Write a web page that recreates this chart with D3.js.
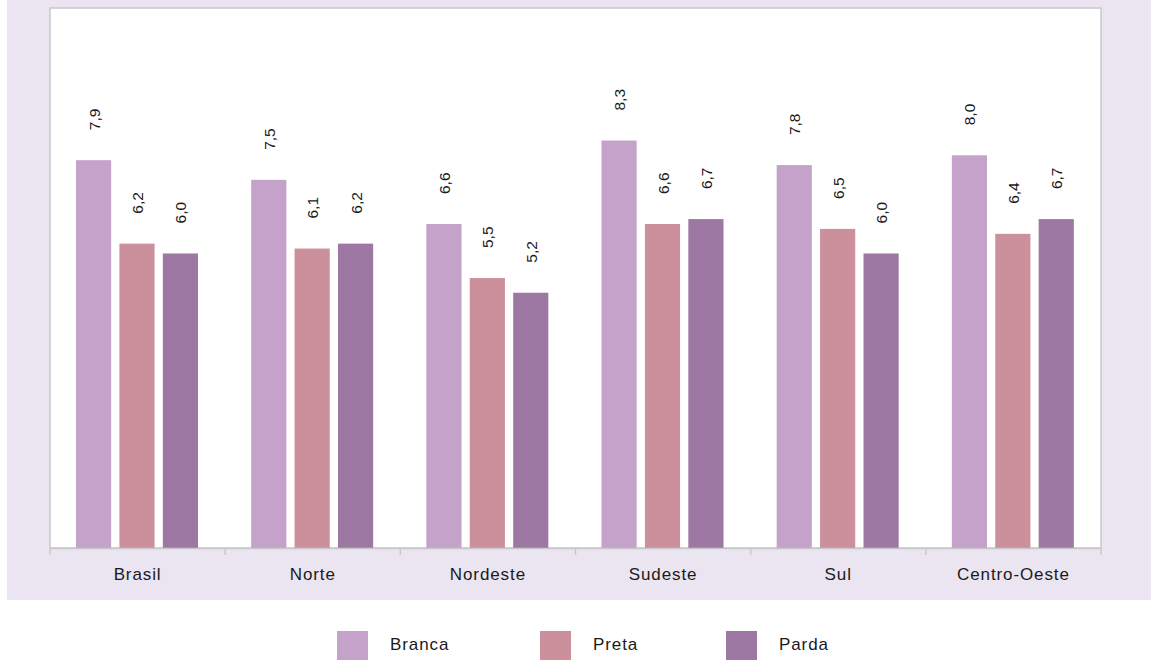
<!DOCTYPE html>
<html><head><meta charset="utf-8">
<script src="https://cdn.jsdelivr.net/npm/d3@7"></script>
<style>body{margin:0;background:#fff;}svg{display:block;}</style>
</head><body>
<svg id="chart" width="1151" height="660"></svg>
<script>
const categories = ["Brasil","Norte","Nordeste","Sudeste","Sul","Centro-Oeste"];
const seriesNames = ["Branca","Preta","Parda"];
const branca = [7.9,7.5,6.6,8.3,7.8,8.0];
const preta  = [6.2,6.1,5.5,6.6,6.5,6.4];
const parda  = [6.0,6.2,5.2,6.7,6.0,6.7];
const colors = ["#c4a2c9","#cc8f9c","#9d78a3"];
const series = [branca, preta, parda];

(function(){
const svg = d3.select("#chart");
const font = "Liberation Sans, Arial, sans-serif";

svg.append("rect").attr("x",7).attr("y",0).attr("width",1144).attr("height",600).attr("fill","#ebe5f1");

const pl=50, pr=1101, pt=8, pb=548;
svg.append("rect").attr("x",pl).attr("y",pt).attr("width",pr-pl).attr("height",pb-pt)
  .attr("fill","#fff").attr("stroke","#c8c8c8").attr("stroke-width",1.5);

const x0 = d3.scaleBand().domain(categories).range([pl,pr]).paddingInner(0).paddingOuter(0);
const x1 = d3.scaleBand().domain(seriesNames).range([26, 148]).paddingInner(0.19);
const y = d3.scaleLinear().domain([0,11]).range([pb, pt]);

const g = svg.append("g");
categories.forEach((c,i)=>{
  seriesNames.forEach((s,j)=>{
    const v = series[j][i];
    const bx = x0(c)+x1(s);
    g.append("rect").attr("x",bx).attr("y",y(v)).attr("width",x1.bandwidth()).attr("height",pb-y(v)).attr("fill",colors[j]);
    const cx = bx + x1.bandwidth()/2 + 6;
    g.append("text").attr("transform",`translate(${cx},${y(v)-30}) rotate(-90)`)
      .attr("text-anchor","start").attr("font-family",font).attr("font-size",15.5).attr("fill","#1a1a1a")
      .text(d3.format(".1f")(v).replace(".",","));
  });
});

const axis = d3.axisBottom(x0).tickSize(0).tickSizeOuter(0);
const ag = svg.append("g").attr("transform",`translate(0,${pb})`).call(axis);
ag.select(".domain").attr("stroke","#c8c8c8").attr("stroke-width",1.5);
ag.selectAll("text").attr("font-family",font).attr("font-size",17).attr("letter-spacing","0.9px")
  .attr("fill","#1a1a1a").attr("y",31.5).attr("dy",0);
const tickPos = categories.map(c=>x0(c)).concat([pr]);
svg.append("g").selectAll("line").data(tickPos).join("line")
  .attr("x1",d=>d).attr("x2",d=>d).attr("y1",pb).attr("y2",pb+7)
  .attr("stroke","#c8c8c8").attr("stroke-width",1.5);

const legX = [337,540,726];
seriesNames.forEach((s,j)=>{
  svg.append("rect").attr("x",legX[j]).attr("y",631).attr("width",31).attr("height",29).attr("fill",colors[j]);
  svg.append("text").attr("x",legX[j]+53).attr("y",649.5).attr("font-family",font).attr("font-size",17)
    .attr("letter-spacing","0.9px").attr("fill","#1a1a1a").text(s);
});
})();
</script>
</body></html>
